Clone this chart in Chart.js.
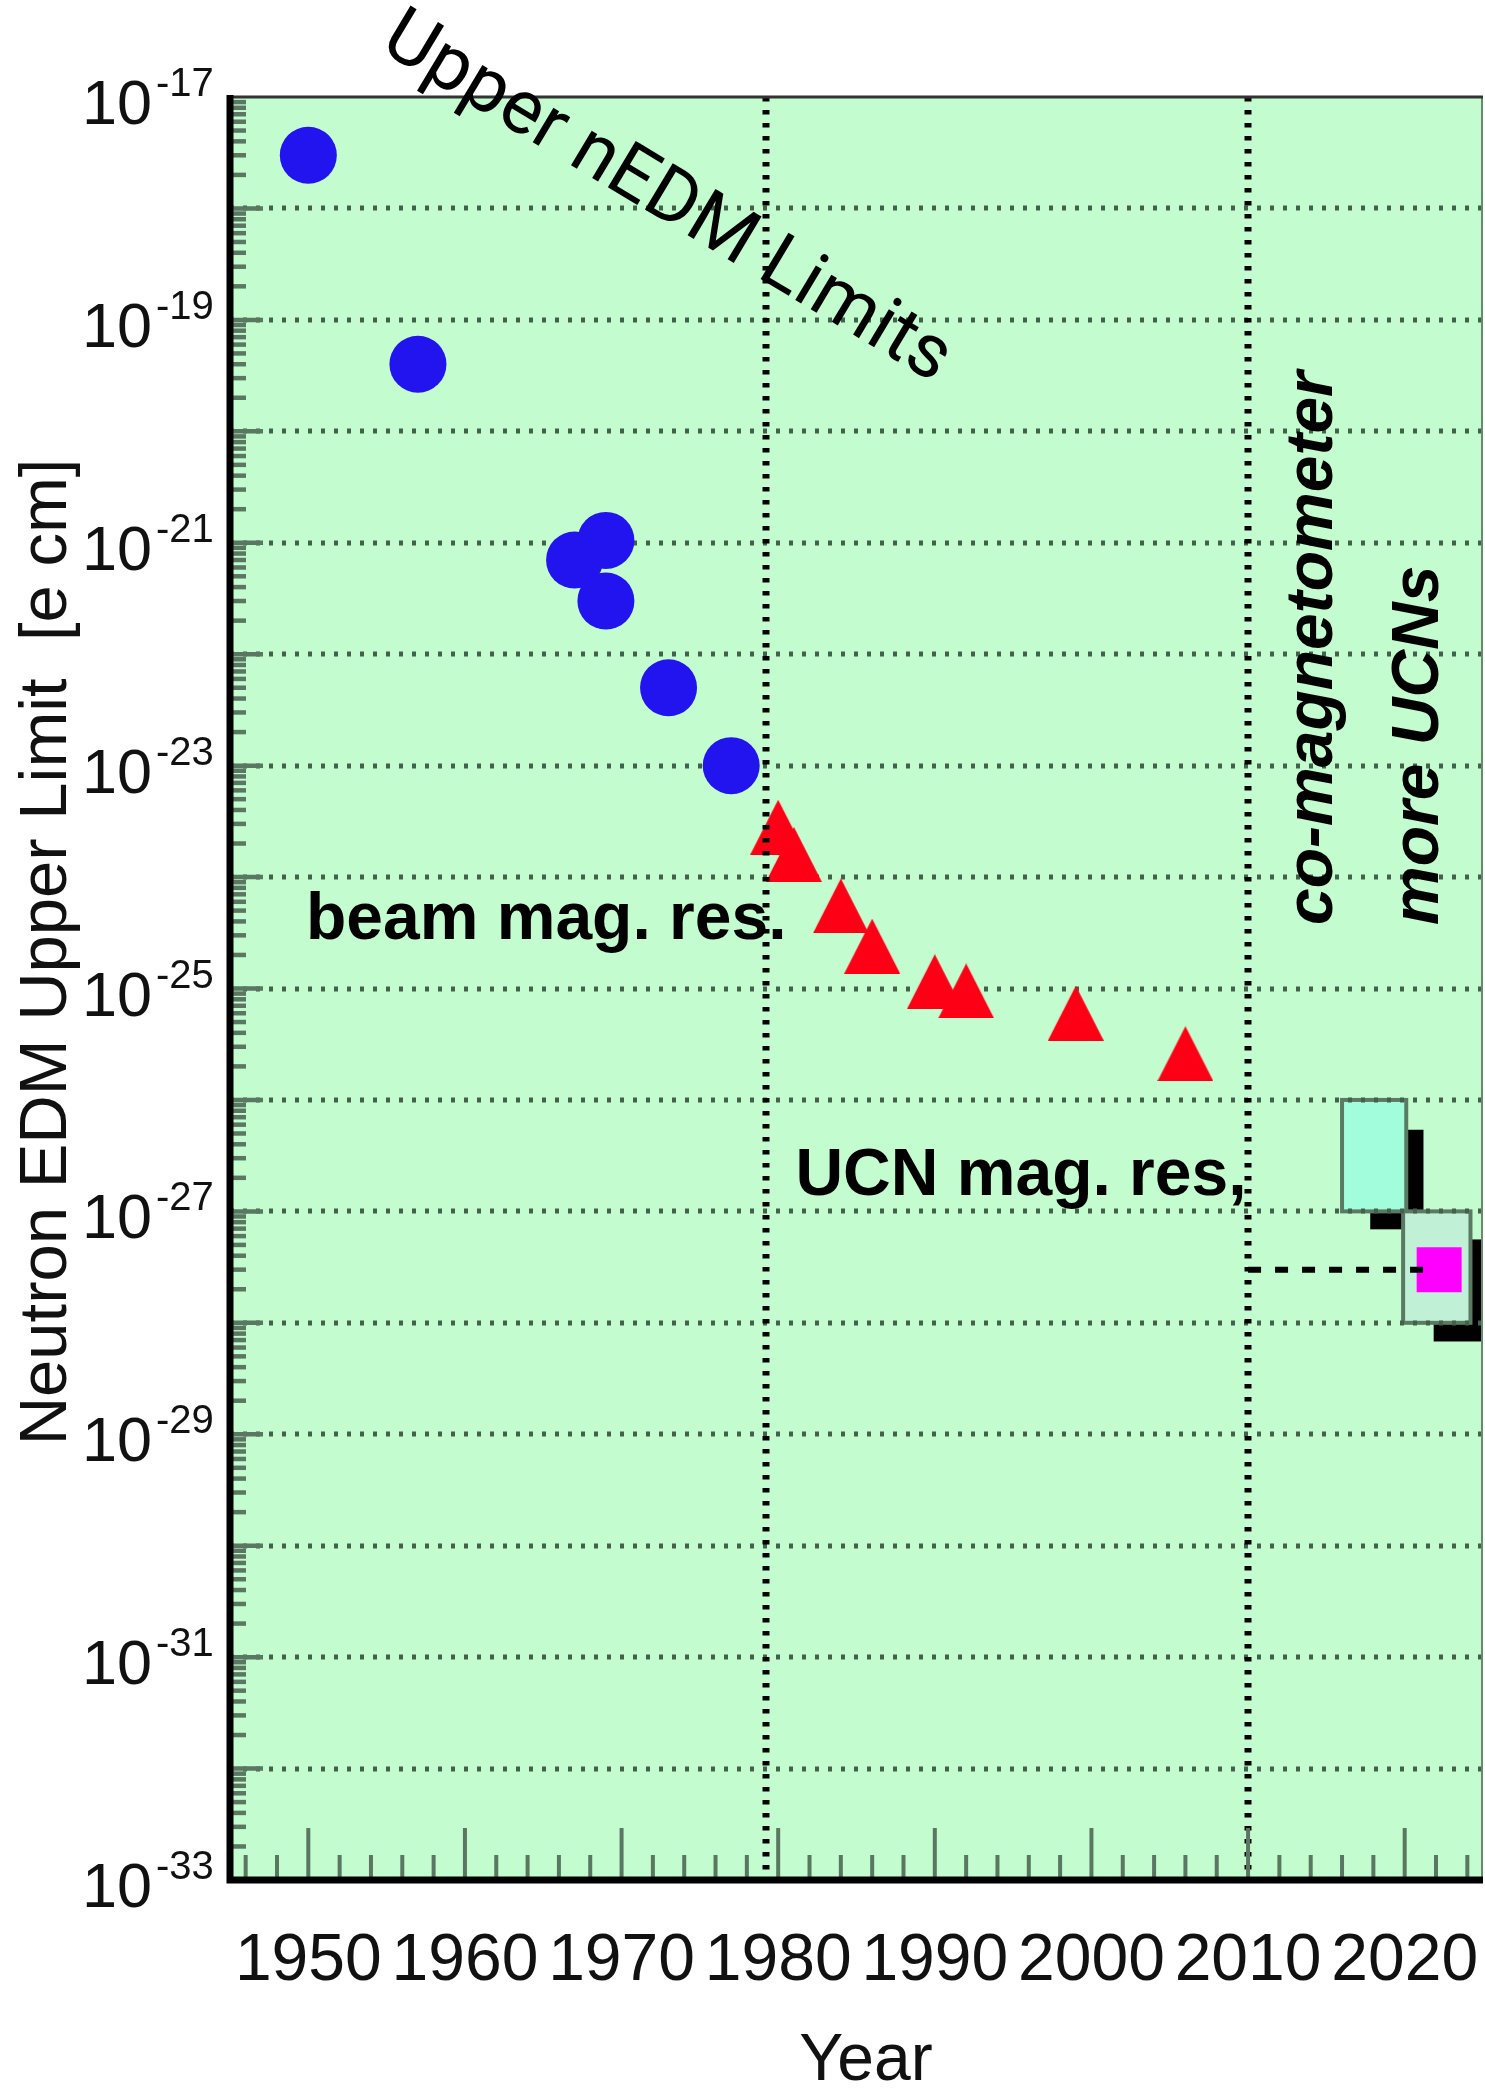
<!DOCTYPE html>
<html>
<head>
<meta charset="utf-8">
<title>Upper nEDM Limits</title>
<script src="https://cdn.jsdelivr.net/npm/chart.js@4.4.0/dist/chart.umd.min.js"></script>
<style>
  html, body { margin: 0; padding: 0; background: #fff; overflow: hidden; }
  canvas { display: block; }
</style>
</head>
<body>
<canvas id="edmChart" width="1485" height="2089"></canvas>
<script>
// beam magnetic resonance results (blue circles)
const beamYears  = [1950, 1957, 1967, 1969, 1969, 1973, 1977];
const beamLimits = [3e-18, 4e-20, 7e-22, 1.05e-21, 3e-22, 5e-23, 1e-23];

// UCN magnetic resonance results (red triangles)
const ucnYears  = [1980, 1981, 1984, 1986, 1990, 1992, 1999, 2006];
const ucnLimits = [2.8e-24, 1.6e-24, 5.5e-25, 2.4e-25, 1.15e-25, 9.5e-26, 6e-26, 2.6e-26];

// projected sensitivity (magenta square)
const projYears  = [2022.2];
const projLimits = [3e-28];

// future ranges: [from, to] in years and limits
const boxYears     = [[2016.0, 2020.1], [2019.9, 2024.2]];
const boxLimits    = [[1e-26, 1e-27], [1e-27, 1e-28]];
const shadowYears  = [[2017.8, 2021.2], [2021.85, 2027]];
const shadowLimits = [[5.4e-27, 6.9e-28], [5.6e-28, 6.8e-29]];
const boxColors    = ['#a2fddd', '#c0f1d7'];

// vertical markers and dashed projection line
const markerYears = [1979.2, 2010];
const projLineYears = [2010, 2021.3];

// axis ticks and labels
const xTickYears = [1950, 1960, 1970, 1980, 1990, 2000, 2010, 2020];
const yLabelExps = [-17, -19, -21, -23, -25, -27, -29, -31, -33];

const FONT = '"Liberation Sans", Arial, Helvetica, sans-serif';

// red triangle marker
const tri = document.createElement('canvas');
tri.width = 56; tri.height = 55;
const tc = tri.getContext('2d');
tc.fillStyle = '#fe0016';
tc.beginPath();
tc.moveTo(28, 0); tc.lineTo(56, 55); tc.lineTo(0, 55);
tc.closePath();
tc.fill();

const pts = (xs, ys) => xs.map((x, i) => ({ x: x, y: ys[i] }));

const framePlugin = {
  id: 'frame',
  beforeDatasetsDraw(chart) {
    const { ctx, chartArea: a, scales: { x, y } } = chart;
    ctx.save();
    ctx.fillStyle = '#c3fccf';
    ctx.fillRect(a.left, a.top, a.right - a.left, a.bottom - a.top);

    // shadows and range boxes
    ctx.beginPath();
    ctx.rect(a.left, a.top, a.right - a.left, a.bottom - a.top);
    ctx.clip();
    shadowYears.forEach((sx, i) => {
      const x0 = x.getPixelForValue(sx[0]), x1 = x.getPixelForValue(sx[1]);
      const y0 = y.getPixelForValue(shadowLimits[i][0]), y1 = y.getPixelForValue(shadowLimits[i][1]);
      ctx.fillStyle = '#000';
      ctx.fillRect(x0, y0, x1 - x0, y1 - y0);
    });
    boxYears.forEach((bx, i) => {
      const x0 = x.getPixelForValue(bx[0]), x1 = x.getPixelForValue(bx[1]);
      const y0 = y.getPixelForValue(boxLimits[i][0]), y1 = y.getPixelForValue(boxLimits[i][1]);
      ctx.fillStyle = boxColors[i];
      ctx.fillRect(x0, y0, x1 - x0, y1 - y0);
      ctx.strokeStyle = '#5b7a63';
      ctx.lineWidth = 4;
      ctx.strokeRect(x0, y0, x1 - x0, y1 - y0);
    });

    // dotted decade grid
    ctx.strokeStyle = '#42604a';
    ctx.lineWidth = 5;
    ctx.setLineDash([4, 9]);
    for (let e = -32; e <= -18; e++) {
      const py = Math.round(y.getPixelForValue(Math.pow(10, e)));
      ctx.beginPath();
      ctx.moveTo(a.left, py);
      ctx.lineTo(a.right, py);
      ctx.stroke();
    }
    ctx.restore();
  },
  afterDatasetsDraw(chart) {
    const { ctx, chartArea: a, scales: { x, y } } = chart;
    ctx.save();

    // vertical dotted markers
    ctx.strokeStyle = '#000';
    ctx.lineWidth = 7;
    ctx.setLineDash([4.5, 8.5]);
    markerYears.forEach(yr => {
      const px = Math.round(x.getPixelForValue(yr));
      ctx.beginPath();
      ctx.moveTo(px, a.top);
      ctx.lineTo(px, a.bottom);
      ctx.stroke();
    });

    // dashed line to projected sensitivity
    ctx.lineWidth = 6;
    ctx.setLineDash([13, 14]);
    const dy = y.getPixelForValue(projLimits[0]);
    ctx.beginPath();
    ctx.moveTo(x.getPixelForValue(projLineYears[0]), dy);
    ctx.lineTo(x.getPixelForValue(projLineYears[1]), dy);
    ctx.stroke();
    ctx.setLineDash([]);

    // ticks (inward)
    ctx.strokeStyle = '#5a7761';
    ctx.lineWidth = 4.5;
    for (let e = -33; e < -17; e++) {
      for (let k = 1; k <= 9; k++) {
        const py = y.getPixelForValue(k * Math.pow(10, e));
        const len = k === 1 ? 33 : 16;
        ctx.beginPath();
        ctx.moveTo(a.left, py);
        ctx.lineTo(a.left + len, py);
        ctx.stroke();
      }
    }
    ctx.lineWidth = 4;
    for (let yr = 1946; yr <= 2024; yr += 2) {
      const px = x.getPixelForValue(yr);
      const len = yr % 10 === 0 ? 52 : 25;
      ctx.beginPath();
      ctx.moveTo(px, a.bottom);
      ctx.lineTo(px, a.bottom - len);
      ctx.stroke();
    }

    // frame
    ctx.strokeStyle = '#6a8a70';
    ctx.lineWidth = 2;
    ctx.beginPath();
    ctx.moveTo(a.right - 1, a.top);
    ctx.lineTo(a.right - 1, a.bottom);
    ctx.stroke();
    ctx.strokeStyle = '#333';
    ctx.lineWidth = 3;
    ctx.beginPath();
    ctx.moveTo(a.left, a.top);
    ctx.lineTo(a.right, a.top);
    ctx.stroke();
    ctx.strokeStyle = '#000';
    ctx.lineWidth = 7;
    ctx.beginPath();
    ctx.moveTo(a.left, a.top - 2);
    ctx.lineTo(a.left, a.bottom);
    ctx.lineTo(a.right, a.bottom);
    ctx.stroke();

    // tick labels
    ctx.fillStyle = '#111';
    ctx.textBaseline = 'alphabetic';
    yLabelExps.forEach(e => {
      const py = y.getPixelForValue(Math.pow(10, e));
      ctx.font = '63px ' + FONT;
      ctx.textAlign = 'right';
      ctx.fillText('10', 152, py + 27);
      ctx.font = '40px ' + FONT;
      ctx.textAlign = 'left';
      ctx.fillText('-' + (-e), 156, py - 1);
    });
    ctx.font = '66px ' + FONT;
    ctx.textAlign = 'center';
    xTickYears.forEach(yr => {
      ctx.fillText(String(yr), x.getPixelForValue(yr), a.bottom + 100);
    });

    // axis titles
    ctx.fillText('Year', 866, 2080);
    ctx.save();
    ctx.translate(66, 952);
    ctx.rotate(-Math.PI / 2);
    ctx.font = '67px ' + FONT;
    ctx.fillText('Neutron EDM Upper Limit  [e cm]', 0, 0);
    ctx.restore();

    // annotations
    ctx.fillStyle = '#000';
    ctx.textAlign = 'left';
    ctx.font = 'bold 66px ' + FONT;
    ctx.fillText('beam mag. res.', x.getPixelForValue(1949.85), y.getPixelForValue(Math.pow(10, -24.555)));
    ctx.fillText('UCN mag. res,', x.getPixelForValue(1981.1), y.getPixelForValue(Math.pow(10, -26.853)));

    ctx.font = 'italic bold 66px ' + FONT;
    [['co-magnetometer', 2015.37], ['more UCNs', 2022.14]].forEach(([txt, yr]) => {
      ctx.save();
      ctx.translate(x.getPixelForValue(yr), y.getPixelForValue(Math.pow(10, -24.43)));
      ctx.rotate(-Math.PI / 2);
      ctx.fillText(txt, 0, 0);
      ctx.restore();
    });

    // slanted heading
    ctx.save();
    ctx.translate(666, 200);
    ctx.rotate(31 * Math.PI / 180);
    ctx.font = '76px Roboto, ' + FONT;
    ctx.textAlign = 'center';
    ctx.textBaseline = 'middle';
    ctx.fillText('Upper nEDM Limits', 0, 0);
    ctx.restore();

    ctx.restore();
  }
};

new Chart(document.getElementById('edmChart'), {
  type: 'scatter',
  data: {
    datasets: [
      {
        label: 'beam mag. res.',
        data: pts(beamYears, beamLimits),
        pointStyle: 'circle',
        pointRadius: 28.5,
        backgroundColor: '#2214ee',
        borderWidth: 0
      },
      {
        label: 'UCN mag. res.',
        data: pts(ucnYears, ucnLimits),
        pointStyle: tri,
        pointRadius: 28,
        backgroundColor: '#fe0016',
        borderWidth: 0
      },
      {
        label: 'projected',
        data: pts(projYears, projLimits),
        pointStyle: 'rect',
        pointRadius: 31.8,
        backgroundColor: '#ff00ff',
        borderWidth: 0
      }
    ]
  },
  options: {
    responsive: false,
    animation: false,
    devicePixelRatio: 1,
    events: [],
    layout: { autoPadding: false, padding: { left: 230, right: 2, top: 97, bottom: 209 } },
    plugins: { legend: { display: false }, tooltip: { enabled: false } },
    scales: {
      x: { type: 'linear', min: 1945, max: 2025, display: false },
      y: { type: 'logarithmic', min: 1e-33, max: 1e-17, display: false }
    }
  },
  plugins: [framePlugin]
});
</script>
</body>
</html>
